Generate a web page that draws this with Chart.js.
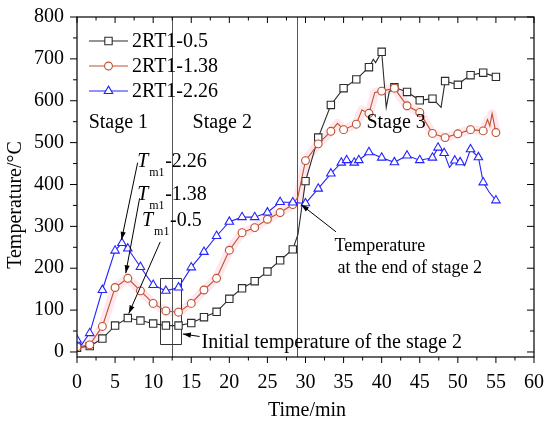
<!DOCTYPE html>
<html>
<head>
<meta charset="utf-8">
<script src="https://cdn.jsdelivr.net/npm/chart.js@4.4.1/dist/chart.umd.min.js"></script>
<style>
html,body{margin:0;padding:0;background:#fff;}
#wrap{width:550px;height:426px;}
</style>
</head>
<body>
<div id="wrap"><canvas id="c" width="550" height="426"></canvas></div>
<script>
// ---- data (time in min, temperature in °C) ----
const seriesNames = ['2RT1-0.5', '2RT1-1.38', '2RT1-2.26'];

const blackT = [0, 1.67, 3.33, 5, 6.67, 8.33, 10, 11.67, 13.33, 15, 16.67, 18.33, 20, 21.67, 23.33, 25, 26.67, 28.33, 30, 31.67, 33.33, 35, 36.67, 38.33, 40, 41.67, 43.33, 45, 46.67, 48.33, 50, 51.67, 53.33, 55];
const blackV = [10, 14, 32, 63, 81, 75, 68, 63, 63, 69, 83, 96, 127, 152, 169, 192, 219, 245, 408, 512, 590, 630, 651, 680, 717, 632, 621, 601, 605, 647, 638, 661, 667, 657];
const blackBendT = [29.0, 38.9, 39.2, 40.6, 41.0, 47.8, 50.8];
const blackBendV = [280, 699, 691, 584, 622, 584, 650];

const redT = [0, 1.67, 3.33, 5, 6.67, 8.33, 10, 11.67, 13.33, 15, 16.67, 18.33, 20, 21.67, 23.33, 25, 26.67, 28.33, 30, 31.67, 33.33, 35, 36.67, 38.33, 40, 41.67, 43.33, 45, 46.67, 48.33, 50, 51.67, 53.33, 55];
const redV = [12, 17, 61, 154, 176, 146, 116, 98, 95, 116, 148, 176, 243, 285, 297, 317, 333, 352, 457, 497, 527, 531, 544, 570, 623, 630, 588, 572, 522, 512, 521, 531, 528, 524];
const redBendT = [29.0, 34.2, 37.4, 39.1, 53.9, 54.2, 54.5];
const redBendV = [370, 546, 578, 620, 555, 540, 569];

const blueT = [0, 1.67, 3.33, 5, 5.9, 6.67, 8.33, 10, 11.67, 13.33, 15, 16.67, 18.33, 20, 21.67, 23.33, 25, 26.67, 28.33, 30, 31.67, 33.33, 34.7, 35.4, 36.4, 37.0, 38.33, 40, 41.67, 43.33, 45, 46.67, 47.4, 48.2, 49.6, 50.3, 51.67, 52.7, 53.33, 55];
const blueV = [29, 45, 148, 242, 260, 247, 203, 160, 146, 154, 202, 239, 277, 311, 322, 322, 333, 358, 357, 355, 390, 426, 452, 458, 452, 458, 477, 464, 453, 469, 458, 464, 488, 475, 457, 453, 484, 465, 405, 362];
const blueBendT = [0.6, 48.9, 50.9, 54.1];
const blueBendV = [17, 441, 445, 382];

const xTicks = [0, 5, 10, 15, 20, 25, 30, 35, 40, 45, 50, 55, 60];
const yTicks = [0, 100, 200, 300, 400, 500, 600, 700, 800];

// stage boundaries (min)
const stageLines = [12.5, 28.85];

const FONT = 'Liberation Serif, Times New Roman, serif';
const COLORS = ['#2b2b2b', '#c0502f', '#2323ff'];
const STYLES = ['rect', 'circle', 'triangle'];
const RADII = [5.2, 3.9, 4.9];

function build(t, v, bt, bv) {
  const pts = t.map((x, i) => ({x: x, y: v[i], m: true}));
  bt.forEach((x, i) => pts.push({x: x, y: bv[i], m: false}));
  pts.sort((a, b) => a.x - b.x);
  return pts;
}
const blackData = build(blackT, blackV, blackBendT, blackBendV);
const redData = build(redT, redV, redBendT, redBendV);
const blueData = build(blueT, blueV, blueBendT, blueBendV);

function ds(data, k) {
  return {
    label: seriesNames[k], data: data, showLine: true, tension: 0,
    borderColor: COLORS[k], borderWidth: 1.1,
    pointStyle: STYLES[k], backgroundColor: '#fff',
    pointBorderColor: COLORS[k], pointBorderWidth: 1.1,
    pointRadius: c => (c.raw && c.raw.m) ? RADII[k] : 0,
    pointHoverRadius: c => (c.raw && c.raw.m) ? RADII[k] : 0,
    order: 3 - k
  };
}

function drawMarker(ctx, style, x, y, r, color) {
  ctx.save();
  ctx.strokeStyle = color; ctx.fillStyle = '#fff'; ctx.lineWidth = 1.1;
  ctx.beginPath();
  if (style === 'rect') {
    const s = Math.SQRT1_2 * r; ctx.rect(x - s, y - s, 2 * s, 2 * s);
  } else if (style === 'circle') {
    ctx.arc(x, y, r, 0, Math.PI * 2);
  } else {
    const a = Math.PI / 2;
    ctx.moveTo(x + Math.cos(-a) * r, y + Math.sin(-a) * r);
    ctx.lineTo(x + Math.cos(-a + 2 * Math.PI / 3) * r, y + Math.sin(-a + 2 * Math.PI / 3) * r);
    ctx.lineTo(x + Math.cos(-a + 4 * Math.PI / 3) * r, y + Math.sin(-a + 4 * Math.PI / 3) * r);
    ctx.closePath();
  }
  ctx.fill(); ctx.stroke();
  ctx.restore();
}

function arrow(ctx, x1, y1, x2, y2) {
  ctx.save();
  ctx.strokeStyle = '#000'; ctx.fillStyle = '#000'; ctx.lineWidth = 1;
  ctx.beginPath(); ctx.moveTo(x1, y1); ctx.lineTo(x2, y2); ctx.stroke();
  const ang = Math.atan2(y2 - y1, x2 - x1), L = 8, W = 2.6;
  ctx.beginPath();
  ctx.moveTo(x2, y2);
  ctx.lineTo(x2 - L * Math.cos(ang) + W * Math.sin(ang), y2 - L * Math.sin(ang) - W * Math.cos(ang));
  ctx.lineTo(x2 - L * Math.cos(ang) - W * Math.sin(ang), y2 - L * Math.sin(ang) + W * Math.cos(ang));
  ctx.closePath(); ctx.fill();
  ctx.restore();
}

const decor = {
  id: 'decor',
  beforeDatasetsDraw(chart) {
    const {ctx, chartArea: a, scales: {x, y}} = chart;
    ctx.save();
    // pink halo behind the 1.38 curve
    ctx.strokeStyle = 'rgba(255,185,205,0.35)'; ctx.lineWidth = 9; ctx.lineJoin = 'round';
    ctx.beginPath();
    redData.forEach((p, i) => { const px = x.getPixelForValue(p.x), py = y.getPixelForValue(p.y); i ? ctx.lineTo(px, py) : ctx.moveTo(px, py); });
    ctx.stroke();
    // stage boundary lines
    ctx.strokeStyle = '#555'; ctx.lineWidth = 1;
    stageLines.forEach(t => { const px = Math.round(x.getPixelForValue(t)) + 0.5; ctx.beginPath(); ctx.moveTo(px, a.top); ctx.lineTo(px, a.bottom); ctx.stroke(); });
    // box around initial temperatures of stage 2
    ctx.strokeStyle = '#333';
    const bx1 = x.getPixelForValue(10.84), bx2 = x.getPixelForValue(13.6), by1 = y.getPixelForValue(176), by2 = y.getPixelForValue(19);
    ctx.strokeRect(Math.round(bx1) + 0.5, Math.round(by1) + 0.5, Math.round(bx2 - bx1), Math.round(by2 - by1));
    ctx.restore();
  },
  afterDraw(chart) {
    const {ctx, chartArea: a, scales: {x, y}} = chart;
    const X = v => x.getPixelForValue(v), Y = v => y.getPixelForValue(v);
    ctx.save();
    // frame
    ctx.strokeStyle = '#000'; ctx.lineWidth = 1.2;
    ctx.strokeRect(a.left, a.top, a.right - a.left, a.bottom - a.top);
    // ticks: bottom/left outward, top/right inward
    ctx.lineWidth = 1;
    ctx.beginPath();
    for (let v = 0; v <= 60; v += 2.5) {
      const px = X(v), major = (v % 5 === 0), L = major ? 6 : 3.5;
      ctx.moveTo(px, a.bottom); ctx.lineTo(px, a.bottom + L);
      ctx.moveTo(px, a.top); ctx.lineTo(px, a.top + L);
    }
    for (let v = 0; v <= 800; v += 50) {
      const py = Y(v), major = (v % 100 === 0), L = major ? 7 : 4;
      ctx.moveTo(a.left, py); ctx.lineTo(a.left - L, py);
      ctx.moveTo(a.right, py); ctx.lineTo(a.right - L, py);
    }
    ctx.stroke();

    // axis titles
    ctx.fillStyle = '#000';
    ctx.font = '20px ' + FONT;
    ctx.textAlign = 'center'; ctx.textBaseline = 'middle';
    ctx.fillText('Time/min', 307, 411);
    ctx.save(); ctx.translate(16, 205); ctx.rotate(-Math.PI / 2);
    ctx.fillText('Temperature/°C', 0, 0); ctx.restore();

    // legend
    ctx.textAlign = 'left'; ctx.textBaseline = 'middle';
    const ly = [41, 66, 91];
    seriesNames.forEach((n, k) => {
      ctx.strokeStyle = COLORS[k]; ctx.lineWidth = 1.1;
      ctx.beginPath(); ctx.moveTo(89, ly[k]); ctx.lineTo(128, ly[k]); ctx.stroke();
      drawMarker(ctx, STYLES[k], 108.5, ly[k], RADII[k], COLORS[k]);
      ctx.fillStyle = '#000'; ctx.font = '20px ' + FONT;
      ctx.fillText(n, 132, ly[k] + 1);
    });

    // stage labels
    ctx.font = '20px ' + FONT; ctx.textBaseline = 'alphabetic';
    ctx.fillText('Stage 1', X(1.53), Y(535));
    ctx.fillText('Stage 2', X(15.17), Y(535));
    ctx.fillText('Stage 3', X(38.0), Y(535));

    // Tm1 labels
    const tm = [[7.9, 442, '-2.26', 28], [7.9, 362, '-1.38', 28], [8.55, 300, '-0.5', 28]];
    tm.forEach(([t, v, s, dx]) => {
      const px = X(t), py = Y(v);
      ctx.font = 'italic 20px ' + FONT; ctx.fillText('T', px, py);
      ctx.font = '12px ' + FONT; ctx.fillText('m1', px + 12, py + 9);
      ctx.font = '20px ' + FONT; ctx.fillText(s, px + dx, py);
    });

    // other notes
    ctx.font = '20px ' + FONT;
    ctx.fillText('Initial temperature of the stage 2', X(16.35), Y(10));
    ctx.font = '18px ' + FONT;
    ctx.fillText('Temperature', X(33.8), Y(242));
    ctx.fillText('at the end of stage 2', X(34.2), Y(188));

    // arrows
    arrow(ctx, X(7.96), Y(452), X(5.85), Y(268));
    arrow(ctx, X(8.22), Y(367), X(6.4), Y(188));
    arrow(ctx, X(10.93), Y(263), X(6.8), Y(92));
    arrow(ctx, X(16.09), Y(37), X(13.9), Y(43));
    arrow(ctx, X(34.0), Y(287), X(29.42), Y(352));
    ctx.restore();
  }
};

new Chart(document.getElementById('c'), {
  type: 'scatter',
  data: { datasets: [ds(blackData, 0), ds(redData, 1), ds(blueData, 2)] },
  options: {
    responsive: false, animation: false, devicePixelRatio: 1,
    layout: { padding: { top: 12, right: 5, left: 0, bottom: 0 } },
    plugins: { legend: { display: false }, tooltip: { enabled: false } },
    scales: {
      x: {
        type: 'linear', min: 0, max: 60,
        afterBuildTicks: s => { s.ticks = xTicks.map(v => ({value: v})); },
        afterFit: s => { s.height = 69; },
        grid: { display: false }, border: { display: false },
        ticks: { color: '#000', font: { family: FONT, size: 20 }, padding: 6, maxRotation: 0, autoSkip: false }
      },
      y: {
        type: 'linear', min: -12, max: 800,
        afterBuildTicks: s => { s.ticks = yTicks.map(v => ({value: v})); },
        afterFit: s => { s.width = 77; },
        grid: { display: false }, border: { display: false },
        ticks: { color: '#000', font: { family: FONT, size: 20 }, padding: 5, autoSkip: false }
      }
    }
  },
  plugins: [decor]
});
</script>
</body>
</html>
